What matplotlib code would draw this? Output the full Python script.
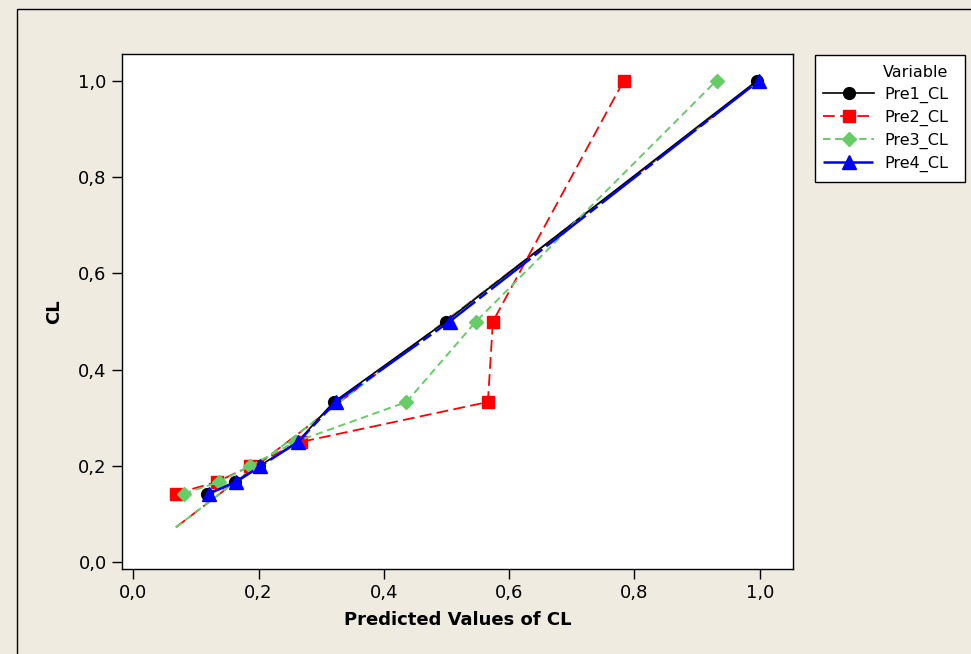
import matplotlib
matplotlib.use("Agg")
import matplotlib.pyplot as plt
from matplotlib.patches import Rectangle
from matplotlib.lines import Line2D

# ---- data ----
cl_values = [0.143, 0.167, 0.2, 0.25, 0.333, 0.5, 1.0]
pre1_cl = [0.118, 0.162, 0.201, 0.262, 0.320, 0.499, 0.996]
pre2_cl = [0.068, 0.133, 0.187, 0.267, 0.566, 0.574, 0.783]
pre3_cl = [0.081, 0.137, 0.186, 0.258, 0.436, 0.547, 0.931]
pre4_cl = [0.121, 0.164, 0.203, 0.263, 0.323, 0.505, 0.999]
diag_x = [0.068, 1.0]
diag_y = [0.073, 1.0]

series_names = ["Pre1_CL", "Pre2_CL", "Pre3_CL", "Pre4_CL"]
tick_vals = [0.0, 0.2, 0.4, 0.6, 0.8, 1.0]
tick_labels = ["0,0", "0,2", "0,4", "0,6", "0,8", "1,0"]

BG = "#EFEBE0"
W, H = 971, 654
fig = plt.figure(figsize=(W / 100, H / 100), dpi=100, facecolor=BG)

# outer frame
fig.patches.append(Rectangle((17 / W, -0.05), 1.2, (H - 9) / H + 0.05,
                             transform=fig.transFigure, fill=False,
                             edgecolor="black", linewidth=1.0))

left, right, top, bottom = 122, 793, 54, 569
ax = fig.add_axes([left / W, 1 - bottom / H, (right - left) / W, (bottom - top) / H])
ax.set_facecolor("white")

styles = [
    dict(color="black", lw=1.2, ls="-", marker="o", ms=8.5),
    dict(color="#FF0000", lw=1.3, dashes=(6.5, 3), marker="s", ms=8.3),
    dict(color="#66CC66", lw=1.4, dashes=(3.8, 2.4), marker="D", ms=7),
    dict(color="#0000FF", lw=1.8, dashes=(20, 2, 4, 2), marker="^", ms=9.5),
]
data = [pre1_cl, pre2_cl, pre3_cl, pre4_cl]

# diagonal dashed lines of red and green series
for i in (1, 2):
    st = styles[i]
    kw = {k: v for k, v in st.items() if k not in ("marker", "ms")}
    ax.plot(diag_x, diag_y, zorder=2, **kw)

handles = []
for i, (xs, st) in enumerate(zip(data, styles)):
    kw = dict(st)
    ax.plot(xs, cl_values, markeredgecolor=st["color"], markerfacecolor=st["color"],
            zorder=3 + i, **kw)
    handles.append(Line2D([], [], markeredgecolor=st["color"],
                          markerfacecolor=st["color"], **kw))

ax.set_xlim(-0.018, 1.053)
ax.set_ylim(-0.0135, 1.055)
ax.set_xticks(tick_vals)
ax.set_xticklabels(tick_labels)
ax.set_yticks(tick_vals)
ax.set_yticklabels(tick_labels)
ax.tick_params(direction="out", length=7, width=1, labelsize=13, pad=4, colors="black")
for sp in ax.spines.values():
    sp.set_linewidth(1.0)
    sp.set_color("black")

ax.set_xlabel("Predicted Values of CL", fontsize=13, fontweight="bold", labelpad=6)
ax.set_ylabel("CL", fontsize=13, fontweight="bold", labelpad=11)

# legend frame
lx0, lx1, ly0, ly1 = 815, 965, 55, 182
fig.patches.append(Rectangle((lx0 / W, 1 - ly1 / H), (lx1 - lx0) / W, (ly1 - ly0) / H,
                             transform=fig.transFigure, facecolor="white",
                             edgecolor="black", linewidth=1.0, zorder=1))
leg = fig.legend(handles, series_names, title="Variable", loc="upper left",
                 bbox_to_anchor=(812 / W, 1 - 54 / H), frameon=False,
                 fontsize=11.5, title_fontsize=11.5, handlelength=3.2,
                 handletextpad=0.6, labelspacing=0.42, borderpad=0.2,
                 alignment="right")
leg.set_zorder(5)

fig.savefig("out.png", dpi=100, facecolor=BG)
